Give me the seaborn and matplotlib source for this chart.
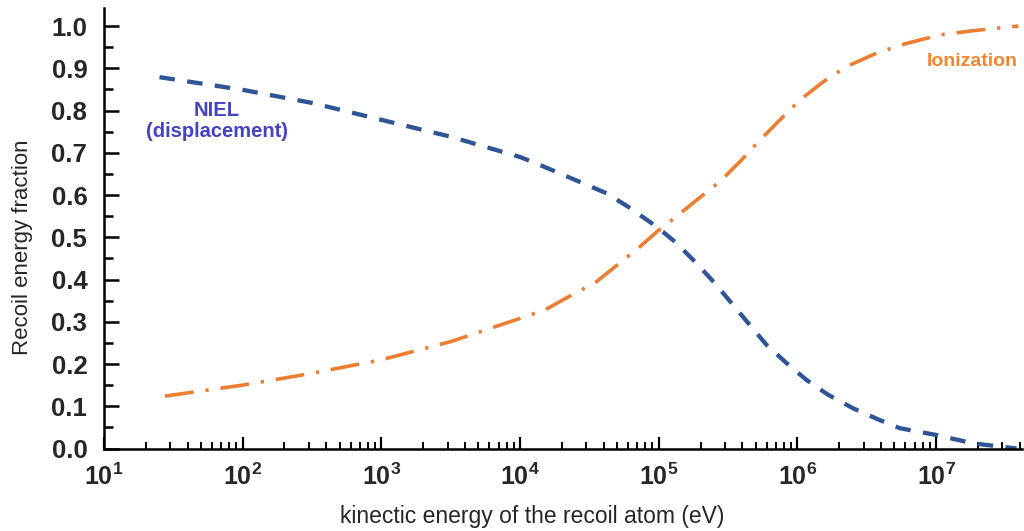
import numpy as np
import pandas as pd
import matplotlib
matplotlib.use("Agg")
import matplotlib.pyplot as plt
import matplotlib.ticker as mticker
import seaborn as sns

# ---- data (log10 of energy in eV, fraction) ----
niel_log_e = [1.40, 2.0, 2.5, 3.0, 3.5, 4.0, 4.144, 4.288, 4.624, 4.78, 4.985, 5.129,
              5.273, 5.405, 5.525, 5.657, 5.778, 5.922, 6.066, 6.222, 6.402, 6.595,
              6.739, 7.0, 7.27, 7.58]
niel_frac = [0.879, 0.849, 0.818, 0.778, 0.738, 0.690, 0.671, 0.651, 0.604, 0.572, 0.525, 0.486,
             0.438, 0.391, 0.344, 0.292, 0.245, 0.202, 0.162, 0.127, 0.095, 0.067,
             0.048, 0.032, 0.012, 0.000]

ion_log_e = [1.44, 2.0, 2.5, 3.0, 3.5, 4.0, 4.18, 4.288, 4.552, 4.865, 5.0, 5.105, 5.273,
             5.441, 5.585, 5.706, 5.874, 6.018, 6.186, 6.354, 6.571, 6.787, 7.027,
             7.268, 7.593]
ion_frac = [0.124, 0.150, 0.178, 0.210, 0.253, 0.308, 0.328, 0.348, 0.395, 0.478, 0.517, 0.543, 0.588,
            0.632, 0.679, 0.722, 0.778, 0.825, 0.868, 0.904, 0.936, 0.959, 0.979,
            0.989, 1.000]

labels = ["NIEL", "Ionization"]
yticks = [0.0, 0.1, 0.2, 0.3, 0.4, 0.5, 0.6, 0.7, 0.8, 0.9, 1.0]
xdecades = [1, 2, 3, 4, 5, 6, 7]

df = pd.concat([
    pd.DataFrame({"energy": 10.0 ** np.array(niel_log_e), "fraction": niel_frac, "process": labels[0]}),
    pd.DataFrame({"energy": 10.0 ** np.array(ion_log_e), "fraction": ion_frac, "process": labels[1]}),
], ignore_index=True)

sns.set_style("white")
plt.rcParams["font.family"] = ["Liberation Sans", "DejaVu Sans"]
plt.rcParams["mathtext.fontset"] = "custom"
plt.rcParams["mathtext.rm"] = "Liberation Sans"
plt.rcParams["mathtext.bf"] = "Liberation Sans:bold"

fig = plt.figure(figsize=(10.24, 5.31), dpi=100)
ax = fig.add_axes([104 / 1024, 1 - 448.5 / 531, (1022 - 104) / 1024, (448.5 - 8.3) / 531])

blue = "#2F5597"
orange = "#ED7D31"
sns.lineplot(data=df, x="energy", y="fraction", hue="process", style="process",
             palette={labels[0]: blue, labels[1]: orange},
             dashes={labels[0]: (3.6, 2.9), labels[1]: (8.0, 3.3, 0.9, 3.3)},
             estimator=None, sort=False, legend=False, ax=ax, lw=3.0)
for ln, lw in zip(ax.get_lines(), [3.1, 2.6]):
    ln.set_linewidth(lw)
    ln.set_dash_capstyle("butt")

ax.set_xscale("log")
ax.set_xlim(10, 10 ** 7.619)
ax.set_ylim(0, 1.042)

ax.xaxis.set_major_locator(mticker.FixedLocator([10.0 ** d for d in xdecades]))
minor = [m * 10.0 ** d for d in xdecades for m in range(2, 10) if m * 10.0 ** d < 10 ** 7.619]
ax.xaxis.set_minor_locator(mticker.FixedLocator(minor))
ax.xaxis.set_major_formatter(mticker.FuncFormatter(lambda v, p: r"$\mathbf{10^{%d}}$" % round(np.log10(v))))
ax.xaxis.set_minor_formatter(mticker.NullFormatter())

ax.set_yticks(yticks)
ax.set_yticklabels([f"{t:.1f}" for t in yticks], fontweight="bold")
ax.yaxis.set_minor_locator(mticker.MultipleLocator(0.05))

for s in ["top", "right"]:
    ax.spines[s].set_visible(False)
for s in ["left", "bottom"]:
    ax.spines[s].set_linewidth(1.8)
    ax.spines[s].set_color("black")

ax.tick_params(axis="both", which="both", bottom=True, left=True, top=False, right=False,
               direction="in", color="black")
ax.tick_params(axis="x", which="major", length=9, width=1.6, labelsize=18, pad=11)
ax.tick_params(axis="x", which="minor", length=5, width=1.4)
ax.tick_params(axis="y", which="major", length=11, width=1.8, labelsize=18.5, pad=12)
ax.tick_params(axis="y", which="minor", length=6.5, width=1.8)

ax.set_xlabel("kinectic energy of the recoil atom (eV)", fontsize=16.5)
ax.xaxis.set_label_coords((532 - 104) / 918, -(505 - 448.5) / 440.2)
ax.set_ylabel("Recoil energy fraction", fontsize=16)
ax.yaxis.set_label_coords(-(104 - 33) / 918, (448.5 - 247) / 440.2)

ax.text(10 ** (1 + (217 - 104) / 138.7), 0.775, "NIEL\n(displacement)", color="#4343C4",
        fontsize=14.5, fontweight="bold", ha="center", va="center", linespacing=1.1)
ax.text(10 ** (1 + (972 - 104) / 138.7), 0.915, "Ionization", color="#F2852F",
        fontsize=14, fontweight="bold", ha="center", va="center")

fig.savefig("out.png", dpi=100)
